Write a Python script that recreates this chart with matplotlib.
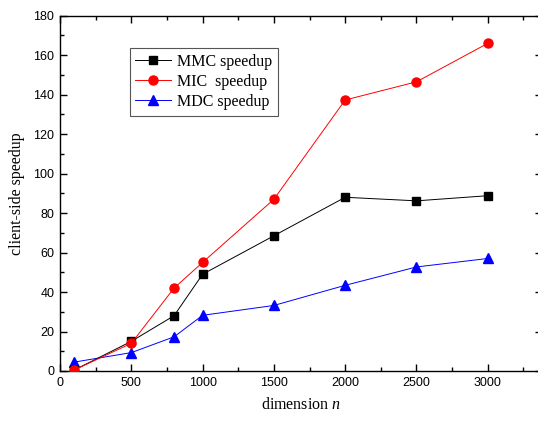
import matplotlib as mpl
mpl.use('Agg')
import matplotlib.pyplot as plt
from matplotlib.ticker import MultipleLocator

plt.rcParams['mathtext.fontset'] = 'custom'
plt.rcParams['mathtext.it'] = 'Liberation Serif:italic'
plt.rcParams['mathtext.rm'] = 'Liberation Serif'

# dimension n and speedups
dims = [100, 500, 800, 1000, 1500, 2000, 2500, 3000]
mmc = [0.5, 15.0, 28.0, 49.0, 68.5, 88.0, 86.2, 88.8]
mic = [0.5, 14.0, 42.0, 55.0, 87.0, 137.3, 146.5, 166.0]
mdc = [4.5, 9.3, 17.3, 28.2, 33.2, 43.4, 52.7, 57.0]

fig = plt.figure(figsize=(5.38, 4.22), dpi=100)
ax = fig.add_axes([0.1115, 0.1209, 0.8959, 0.8419])

ax.plot(dims, mmc, color='black', linewidth=0.7, marker='s', markersize=5.3,
        markerfacecolor='black', markeredgecolor='black', label='MMC speedup', zorder=3)
ax.plot(dims, mic, color='red', linewidth=0.7, marker='o', markersize=6.5,
        markerfacecolor='red', markeredgecolor='red', label='MIC  speedup', zorder=3)
ax.plot(dims, mdc, color='blue', linewidth=0.7, marker='^', markersize=6.8,
        markerfacecolor='blue', markeredgecolor='blue', label='MDC speedup', zorder=2)

ax.set_xlim(0, 3380)
ax.set_ylim(0, 180)
ax.xaxis.set_major_locator(MultipleLocator(500))
ax.xaxis.set_minor_locator(MultipleLocator(250))
ax.yaxis.set_major_locator(MultipleLocator(20))
ax.yaxis.set_minor_locator(MultipleLocator(10))
ax.set_xticks([0, 500, 1000, 1500, 2000, 2500, 3000])

ax.tick_params(which='both', direction='in', top=True, right=True, width=1.0)
ax.tick_params(which='major', length=5, labelsize=9, pad=4)
ax.tick_params(which='minor', length=3)
for lab in ax.get_xticklabels() + ax.get_yticklabels():
    lab.set_family('Liberation Sans')
for sp in ax.spines.values():
    sp.set_linewidth(1.0)
ax.spines['right'].set_visible(False)  # cut off in the original picture

ax.set_xlabel('dimension $n$', family='Liberation Serif', size=11.5, labelpad=6)
ax.set_ylabel('client-side speedup', family='Liberation Serif', size=11.5, labelpad=6)

leg = ax.legend(loc='upper left', bbox_to_anchor=(0.145, 0.908),
                prop={'family': 'Liberation Serif', 'size': 11.5},
                fancybox=False, framealpha=1, edgecolor='#555555',
                handlelength=2.2, handletextpad=0.4, labelspacing=0.25,
                borderpad=0.35, borderaxespad=0, markerscale=1.0)
leg.get_frame().set_linewidth(0.8)

fig.savefig('out.png', dpi=100)
print('drawing successed!')
